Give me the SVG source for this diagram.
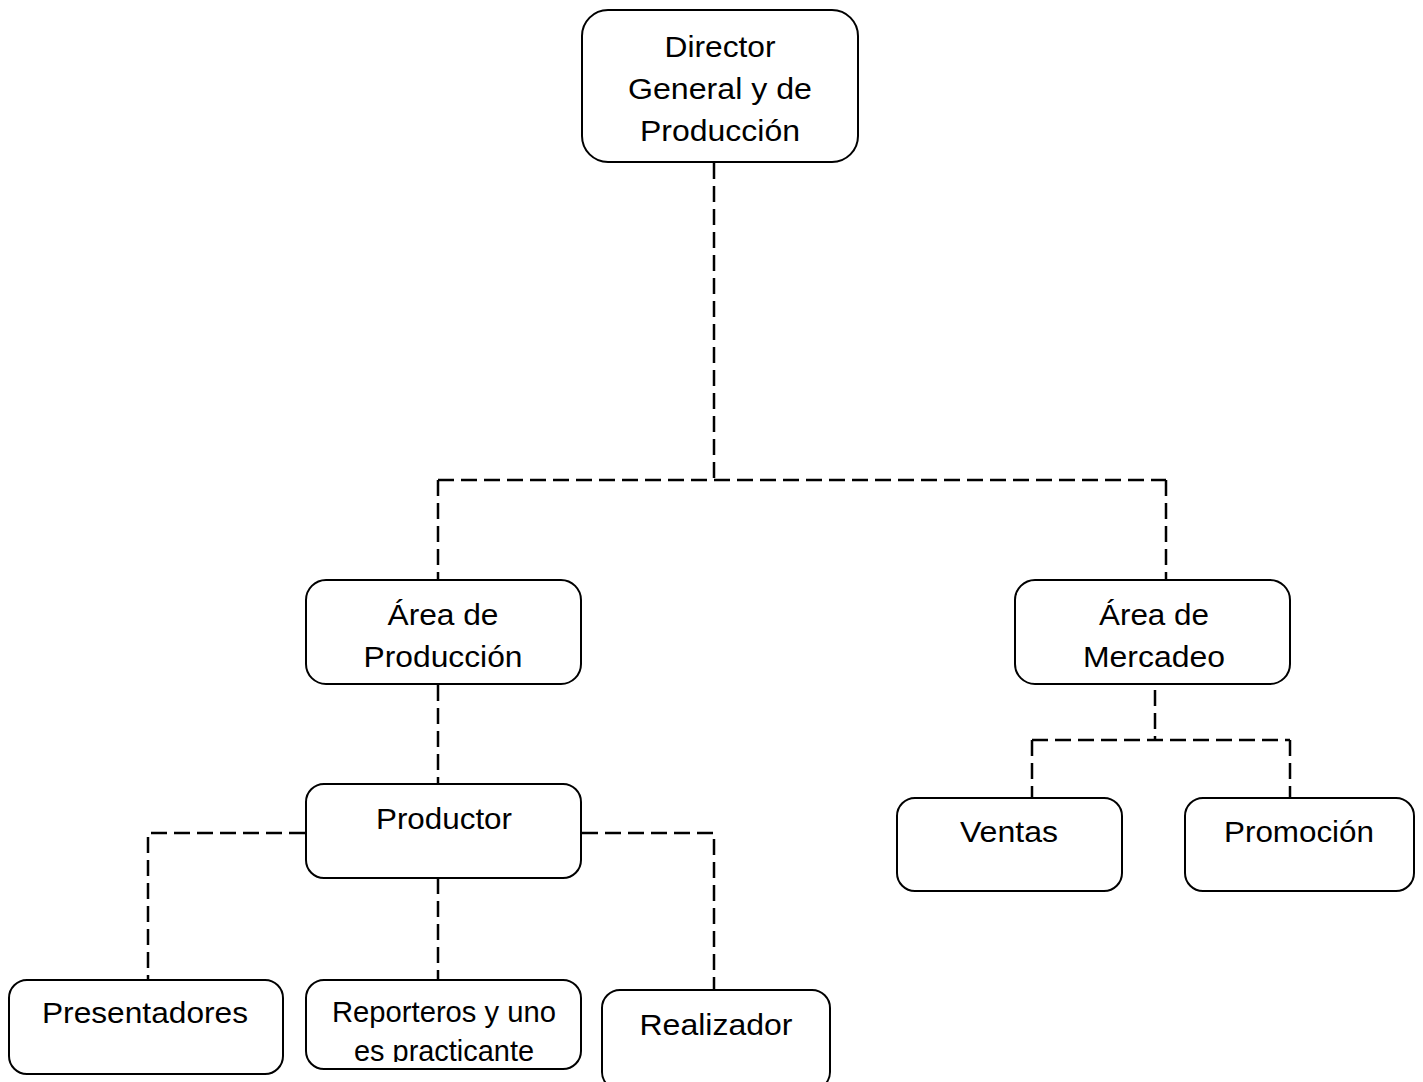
<svg xmlns="http://www.w3.org/2000/svg" width="1423" height="1082" viewBox="0 0 1423 1082">
<style>
.box{fill:#fff;stroke:#000;stroke-width:2}
.t{font-family:"Liberation Sans",Arial,sans-serif;font-size:29px;fill:#000;text-anchor:middle}
.c{fill:none;stroke:#000;stroke-width:2.5;stroke-dasharray:16 7}
</style>
<defs>
<clipPath id="clipRep"><rect x="306" y="980" width="275" height="82"/></clipPath>
</defs>
<rect width="1423" height="1082" fill="#fff"/>
<g id="connectors">
<path class="c" d="M714,163 V480"/>
<path class="c" d="M438,480 H1166"/>
<path class="c" d="M438,480 V580"/>
<path class="c" d="M1166,480 V580"/>
<path class="c" d="M438,685 V784"/>
<path class="c" d="M305,833 H148 V980"/>
<path class="c" d="M582,833 H714 V990"/>
<path class="c" d="M438,878 V980"/>
<path class="c" d="M1155,690 V740"/>
<path class="c" d="M1032,740 H1290"/>
<path class="c" d="M1032,740 V798"/>
<path class="c" d="M1290,740 V798"/>
</g>
<g id="director">
<rect class="box" x="582" y="10" width="276" height="152" rx="26"/>
<text class="t" x="720" y="57" textLength="111" lengthAdjust="spacingAndGlyphs">Director</text>
<text class="t" x="720" y="99" textLength="184" lengthAdjust="spacingAndGlyphs">General y de</text>
<text class="t" x="720" y="141" textLength="160" lengthAdjust="spacingAndGlyphs">Producción</text>
</g>
<g id="area-produccion">
<rect class="box" x="306" y="580" width="275" height="104" rx="20"/>
<text class="t" x="443" y="625" textLength="111" lengthAdjust="spacingAndGlyphs">Área de</text>
<text class="t" x="443" y="667" textLength="159" lengthAdjust="spacingAndGlyphs">Producción</text>
</g>
<g id="area-mercadeo">
<rect class="box" x="1015" y="580" width="275" height="104" rx="20"/>
<text class="t" x="1154" y="625" textLength="110" lengthAdjust="spacingAndGlyphs">Área de</text>
<text class="t" x="1154" y="667" textLength="142" lengthAdjust="spacingAndGlyphs">Mercadeo</text>
</g>
<g id="productor">
<rect class="box" x="306" y="784" width="275" height="94" rx="18"/>
<text class="t" x="444" y="829" textLength="136" lengthAdjust="spacingAndGlyphs">Productor</text>
</g>
<g id="ventas">
<rect class="box" x="897" y="798" width="225" height="93" rx="18"/>
<text class="t" x="1009" y="842" textLength="98" lengthAdjust="spacingAndGlyphs">Ventas</text>
</g>
<g id="promocion">
<rect class="box" x="1185" y="798" width="229" height="93" rx="18"/>
<text class="t" x="1299" y="842" textLength="150" lengthAdjust="spacingAndGlyphs">Promoción</text>
</g>
<g id="presentadores">
<rect class="box" x="9" y="980" width="274" height="94" rx="18"/>
<text class="t" x="145" y="1023" textLength="206" lengthAdjust="spacingAndGlyphs">Presentadores</text>
</g>
<g id="reporteros">
<rect class="box" x="306" y="980" width="275" height="89" rx="18"/>
<g clip-path="url(#clipRep)">
<text class="t" x="444" y="1022" textLength="224" lengthAdjust="spacingAndGlyphs">Reporteros y uno</text>
<text class="t" x="444" y="1061" textLength="180" lengthAdjust="spacingAndGlyphs">es practicante</text>
</g>
</g>
<g id="realizador">
<rect class="box" x="602" y="990" width="228" height="100" rx="18"/>
<text class="t" x="716" y="1035" textLength="153" lengthAdjust="spacingAndGlyphs">Realizador</text>
</g>
</svg>
